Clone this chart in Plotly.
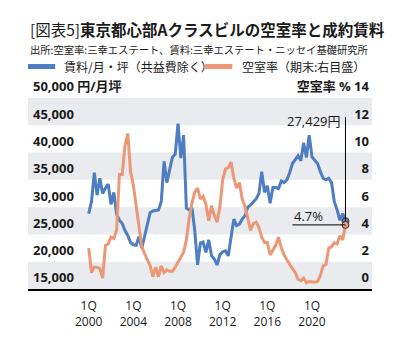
import plotly.graph_objects as go

# ---- data ----
years = list(range(2000, 2024))
quarters = [f"{y}Q{q}" for y in years for q in range(1, 5)][:93]

rent = [28800, 31000, 36300, 32200, 35300, 32500, 33500, 34200, 30500, 32700,
        28700, 27600, 27000, 25700, 24800, 23500, 23100, 23000, 24600, 22500,
        24600, 26800, 29000, 29300, 29400, 29500, 31000, 38400, 34500, 37200,
        39200, 39700, 45300, 39000, 43200, 29800, 29500, 29900, 25700, 19400,
        23400, 23600, 21700, 24000, 21100, 20500, 19400, 21300, 21800, 22000,
        21100, 24500, 27800, 26600, 26900, 27800, 28400, 30000, 30400, 31000,
        31500, 32500, 36500, 32700, 33900, 30700, 33600, 33600, 33400, 34800,
        34500, 35000, 36300, 38000, 38800, 39400, 38500, 41800, 39100, 43200,
        39200, 38600, 38000, 36500, 35300, 35000, 35300, 34500, 31000, 29500,
        27600, 28800, 27429]

vacancy = [3.0, 1.2, 1.6, 1.6, 1.5, 0.8, 3.2, 3.3, 3.8, 3.7,
           4.3, 8.4, 8.4, 10.5, 11.4, 8.6, 7.6, 6.0, 4.4, 3.1,
           2.6, 2.2, 1.7, 0.9, 1.6, 0.9, 1.7, 1.2, 1.4, 1.3,
           1.3, 1.6, 2.0, 2.3, 2.7, 3.6, 5.2, 6.3, 7.1, 7.4,
           6.6, 6.8, 6.2, 5.0, 6.1, 5.4, 4.9, 6.0, 8.0, 8.8,
           8.9, 9.3, 8.1, 7.4, 7.8, 6.6, 6.0, 5.2, 4.3, 4.8,
           4.9, 4.5, 3.8, 3.4, 3.4, 2.5, 2.9, 3.2, 3.8, 3.0,
           2.5, 2.1, 1.8, 1.5, 1.2, 0.7, 0.6, 0.8, 0.45, 0.55,
           0.5, 0.5, 0.55, 1.0, 1.7, 1.8, 3.0, 3.1, 3.4, 3.3,
           3.9, 3.6, 4.7]

x_tick_vals = ["2000Q1", "2004Q1", "2008Q1", "2012Q1", "2016Q1", "2020Q1"]
x_tick_text = ["1Q<br>2000", "1Q<br>2004", "1Q<br>2008", "1Q<br>2012", "1Q<br>2016", "1Q<br>2020"]

left_vals = [15000, 20000, 25000, 30000, 35000, 40000, 45000, 50000]
left_text = ["15,000", "20,000", "25,000", "30,000", "35,000", "40,000", "45,000", "50,000 円/月坪"]
right_vals = [0, 2, 4, 6, 8, 10, 12, 14]
right_text = ["0", "2", "4", "6", "8", "10", "12", "空室率 % 14"]

rent_name = "賃料/月・坪（共益費除く）"
vac_name = "空室率（期末:右目盛）"

BLUE = "#4d7ec3"
ORANGE = "#ec9877"
BAND = "#e9ebee"
TXT = "#1a1a1a"
JP = "Noto Sans CJK JP"
NUM = "Open Sans, Noto Sans CJK JP"

fig = go.Figure()
fig.add_trace(go.Scatter(x=quarters, y=rent, name=rent_name, mode="lines",
                         line=dict(color=BLUE, width=3), yaxis="y"))
fig.add_trace(go.Scatter(x=quarters, y=vacancy, name=vac_name, mode="lines",
                         line=dict(color=ORANGE, width=3), yaxis="y2"))
fig.add_trace(go.Scatter(x=[quarters[-1]], y=[rent[-1]], mode="markers", showlegend=False,
                         marker=dict(color=BLUE, size=7, line=dict(color="#333333", width=1)),
                         yaxis="y"))
fig.add_trace(go.Scatter(x=[quarters[-1]], y=[vacancy[-1]], mode="markers", showlegend=False,
                         marker=dict(color=ORANGE, size=7, line=dict(color="#333333", width=1)),
                         yaxis="y2"))

shapes = []
for lo in range(15000, 50000, 10000):
    shapes.append(dict(type="rect", xref="paper", x0=0, x1=1, yref="y", y0=lo, y1=lo + 5000,
                       fillcolor=BAND, line=dict(width=0), layer="below"))
shapes.append(dict(type="line", xref="x", yref="y", x0=quarters[-1], x1=quarters[-1],
                   y0=rent[-1], y1=46500, line=dict(color="black", width=1)))
shapes.append(dict(type="line", xref="x", yref="y2", x0=quarters[73], x1=quarters[-1],
                   y0=vacancy[-1], y1=vacancy[-1], line=dict(color="black", width=1)))
# legend swatches
LEG_Y = 1.165
shapes.append(dict(type="line", xref="paper", yref="paper", x0=0.0, x1=0.079, y0=LEG_Y, y1=LEG_Y,
                   line=dict(color=BLUE, width=5)))
shapes.append(dict(type="line", xref="paper", yref="paper", x0=0.515, x1=0.594, y0=LEG_Y, y1=LEG_Y,
                   line=dict(color=ORANGE, width=5)))

annotations = [
    dict(xref="paper", yref="paper", x=0, y=1.362, xanchor="left", yanchor="middle",
         text="[図表5]<b>東京都心部Aクラスビルの空室率と成約賃料</b>", showarrow=False,
         font=dict(family=JP, size=15.5, color=TXT)),
    dict(xref="paper", yref="paper", x=0, y=1.255, xanchor="left", yanchor="middle",
         text="出所:空室率:三幸エステート、賃料:三幸エステート・ニッセイ基礎研究所", showarrow=False,
         font=dict(family=JP, size=10.3, color=TXT)),
    dict(xref="paper", yref="paper", x=0.099, y=LEG_Y, xanchor="left", yanchor="middle",
         text=rent_name, showarrow=False, font=dict(family=JP, size=12, color=TXT)),
    dict(xref="paper", yref="paper", x=0.616, y=LEG_Y, xanchor="left", yanchor="middle",
         text=vac_name, showarrow=False, font=dict(family=JP, size=12, color=TXT)),
    dict(xref="x", yref="y", x=quarters[-1], y=45800, xanchor="right", yanchor="middle",
         xshift=-2, text=f"{rent[-1]:,}円", showarrow=False,
         font=dict(family=NUM, size=13, color=TXT)),
    dict(xref="x", yref="y2", x=quarters[73], y=vacancy[-1], xanchor="left", yanchor="bottom",
         text=f"{vacancy[-1]}%", showarrow=False, yshift=-2,
         font=dict(family=NUM, size=13, color=TXT)),
]

fig.update_layout(
    width=398, height=342,
    margin=dict(l=28, r=26, t=98, b=44),
    paper_bgcolor="white", plot_bgcolor="white",
    shapes=shapes, annotations=annotations,
    showlegend=False,
    xaxis=dict(type="category", range=[-21.75, 101.5], tickvals=x_tick_vals, ticktext=x_tick_text,
               showgrid=False, showline=True, linecolor="black", linewidth=1.5, ticks="",
               ticklabelstandoff=5,
               tickfont=dict(family=NUM, size=12, color=TXT), zeroline=False),
    yaxis=dict(range=[15000, 50000], tickvals=left_vals, ticktext=left_text,
               ticklabelposition="inside top", ticklabeloverflow="allow",
               ticklabelstandoff=2, ticklabelshift=-2,
               showgrid=False, zeroline=False, ticks="",
               tickfont=dict(family=NUM, size=13, color=TXT, weight="bold")),
    yaxis2=dict(range=[0, 14], overlaying="y", side="right", tickvals=right_vals, ticktext=right_text,
                ticklabelposition="inside top", ticklabeloverflow="allow",
                ticklabelshift=-2,
                showgrid=False, zeroline=False, ticks="",
                tickfont=dict(family=NUM, size=13, color=TXT, weight="bold")),
)

fig.write_html("out.html")
